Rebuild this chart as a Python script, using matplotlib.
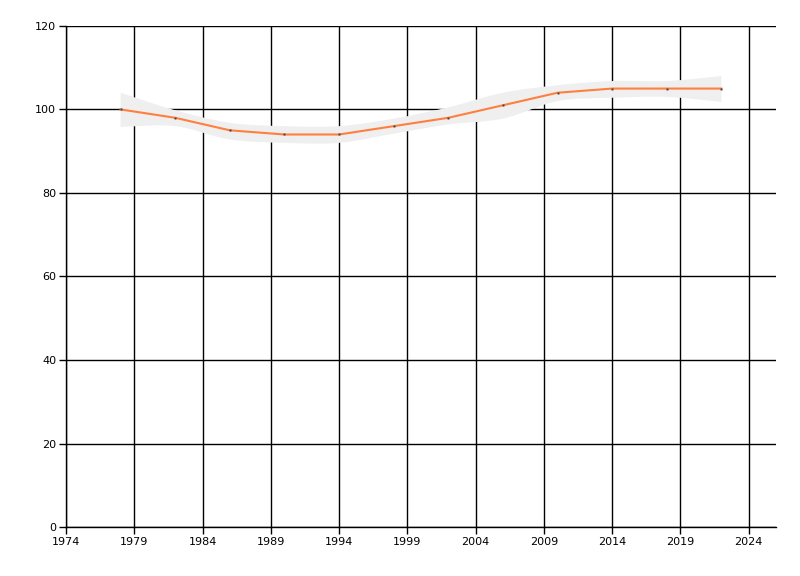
import matplotlib
matplotlib.use("Agg")
import matplotlib.pyplot as plt
from matplotlib.path import Path
from matplotlib.patches import PathPatch
import numpy as np

years = [1978, 1982, 1986, 1990, 1994, 1998, 2002, 2006, 2010, 2014, 2018, 2022]
values = [100, 98, 95, 94, 94, 96, 98, 101, 104, 105, 105, 105]
upper = [104, 99.8, 96.8, 96, 96, 97.8, 100.5, 104, 105.8, 106.8, 106.8, 108]
lower = [95.8, 96, 92.8, 92, 92, 94.2, 96.4, 97.8, 102, 102.8, 103, 101.8]

xticks = [1974, 1979, 1984, 1989, 1994, 1999, 2004, 2009, 2014, 2019, 2024]
yticks = [0, 20, 40, 60, 80, 100, 120]


def smooth_path(xs, ys):
    # catmull-rom -> cubic bezier control points
    pts = np.column_stack([xs, ys]).astype(float)
    verts = [pts[0]]
    codes = []
    n = len(pts)
    for i in range(n - 1):
        p0 = pts[max(i - 1, 0)]
        p1 = pts[i]
        p2 = pts[i + 1]
        p3 = pts[min(i + 2, n - 1)]
        verts += [p1 + (p2 - p0) / 6, p2 - (p3 - p1) / 6, p2]
        codes += [Path.CURVE4] * 3
    return verts, codes


uv, uc = smooth_path(years, upper)
lv, lc = smooth_path(years[::-1], lower[::-1])
verts = uv + lv + [uv[0]]
codes = [Path.MOVETO] + uc + [Path.LINETO] + lc + [Path.CLOSEPOLY]

fig = plt.figure(figsize=(8, 5.76), dpi=100)
ax = fig.add_axes([0.0825, 0.085, 0.8875, 0.87])

ax.add_patch(PathPatch(Path(verts, codes), facecolor="#efefef", edgecolor="none", zorder=2))
ax.plot(years, values, color="#ff7f3f", lw=1.5, zorder=3)
ax.plot(years, values, ls="none", marker="s", ms=1.4, mew=0, color="#404040", zorder=4)

ax.set_xlim(1974, 2026)
ax.set_ylim(0, 120)
ax.set_xticks(xticks)
ax.set_yticks(yticks)
ax.grid(True, color="black", lw=1, zorder=1)
ax.set_axisbelow(True)
for s in ["top", "right"]:
    ax.spines[s].set_visible(False)
for s in ["left", "bottom"]:
    ax.spines[s].set_linewidth(1)
ax.tick_params(direction="out", length=5, width=1, labelsize=8, pad=2)

fig.savefig("out.png", dpi=100)
